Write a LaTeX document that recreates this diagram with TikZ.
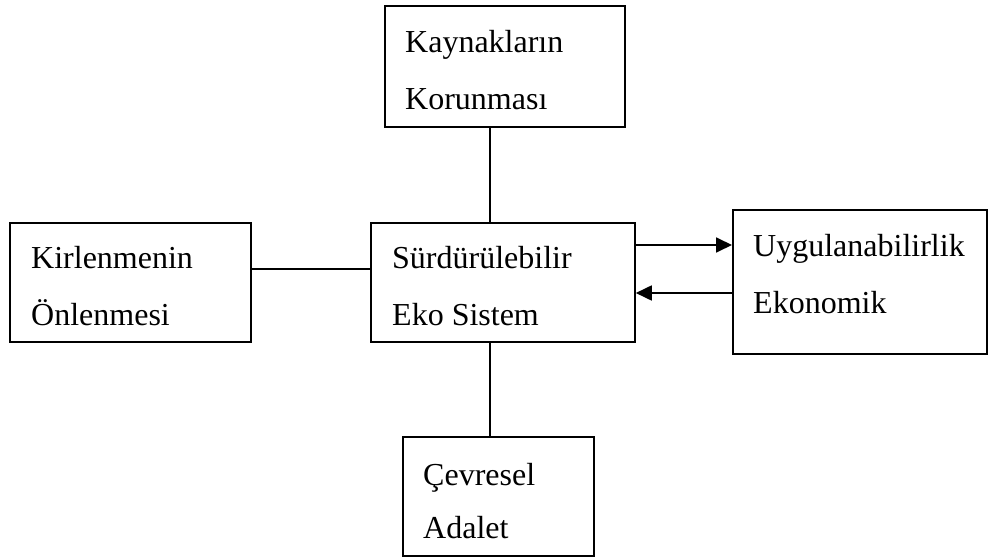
\documentclass[tikz,border=0pt]{standalone}
\usepackage{fontspec}
\setmainfont{Liberation Serif}
\usetikzlibrary{arrows.meta}
\begin{document}
\begin{tikzpicture}[x=1pt,y=-1pt,
  box/.style={draw,line width=1.8pt,rectangle,inner sep=0pt,anchor=north west},
  txt/.style={anchor=base west,inner sep=0pt,font=\fontsize{32}{38}\selectfont},
  link/.style={line width=1.8pt},
  flow/.style={line width=1.8pt,-{Triangle[length=16pt,width=15pt]}}]
\useasboundingbox (0,0) rectangle (989,559);
% frames
\node[box,minimum width=264pt,minimum height=119pt] (core) at (370,222) {};
\node[box,minimum width=240pt,minimum height=121pt] (res)  at (384,5) {};
\node[box,minimum width=241pt,minimum height=119pt] (poll) at (9,222) {};
\node[box,minimum width=254pt,minimum height=144pt] (econ) at (732,209) {};
\node[box,minimum width=191pt,minimum height=119pt] (just) at (402,436) {};
% labels
\node[txt] (res1)  at (405,53)  {Kaynakların};
\node[txt] (res2)  at (405,110) {Korunması};
\node[txt] (poll1) at (31,269)  {Kirlenmenin};
\node[txt] (poll2) at (31,325)  {Önlenmesi};
\node[txt] (core1) at (392,269) {Sürdürülebilir};
\node[txt] (core2) at (392,325) {Eko Sistem};
\node[txt] (econ1) at (753,257) {Uygulanabilirlik};
\node[txt] (econ2) at (753,313) {Ekonomik};
\node[txt] (just1) at (423,485) {Çevresel};
\node[txt] (just2) at (423,538) {Adalet};
% connectors
\draw[link] (res.south -| 490,0) -- (core.north -| 490,0);
\draw[link] (core.south -| 490,0) -- (just.north -| 490,0);
\draw[link] (poll.east |- 0,269) -- (core.west |- 0,269);
\draw[flow] (core.east |- 0,245) -- (econ.west |- 0,245);
\draw[flow] (econ.west |- 0,293) -- (core.east |- 0,293);
\end{tikzpicture}
\end{document}
